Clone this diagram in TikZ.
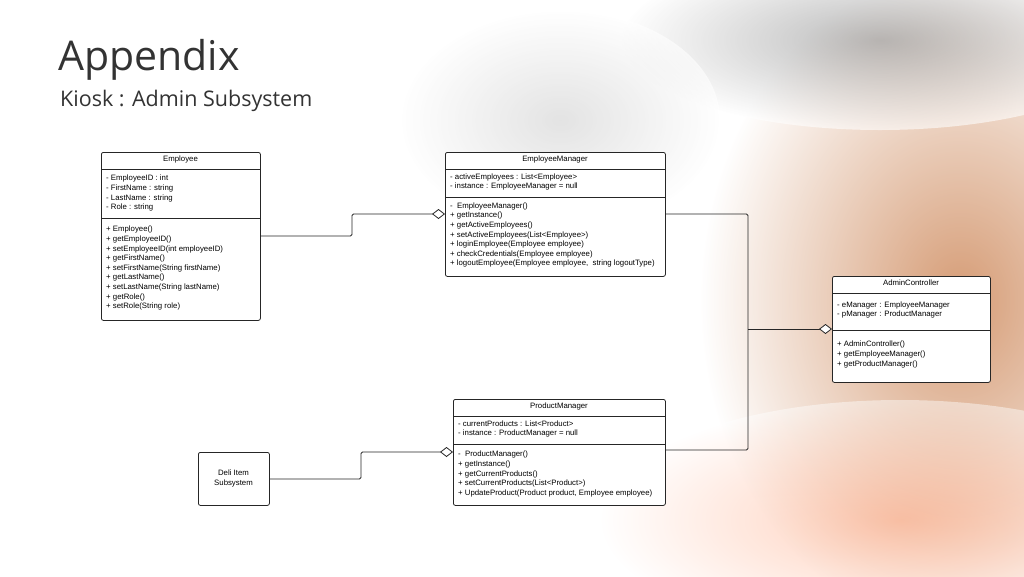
\documentclass[tikz,border=0pt]{standalone}
\usepackage{fontspec}
\setmainfont{Liberation Sans}
\newfontfamily\titlefont{Open Sans}
\usetikzlibrary{arrows.meta}
\begin{document}
\begin{tikzpicture}[x=1pt,y=-1pt,
  cls/.style={draw=black!85,fill=white,rounded corners=2pt,line width=0.8pt,anchor=north west,inner sep=0pt},
  txt/.style={anchor=north west,align=left,inner sep=0pt,font=\fontsize{7.8}{9.6}\selectfont},
  ttl/.style={anchor=north,inner sep=0pt,font=\fontsize{7.8}{9.6}\selectfont},
  sep/.style={line width=0.8pt,draw=black!85},
  con/.style={line width=0.8pt,draw=black!85,rounded corners=1.5pt}]
\useasboundingbox (0,0) rectangle (1024,576);
% background
\fill[white] (0,0) rectangle (1024,576);
\shade[inner color=orange!80!red!70!black!90,outer color=white,opacity=0.6] (960,300) ellipse (260 and 330);
\shade[inner color=orange!60!red!60,outer color=white,opacity=0.45] (900,520) ellipse (300 and 120);
\shade[inner color=black!45,outer color=white,opacity=0.6] (880,40) ellipse (260 and 90);
\shade[inner color=black!18,outer color=white,opacity=0.6] (560,120) ellipse (160 and 110);
% titles
\node[anchor=base west,inner sep=0pt,font=\titlefont\fontsize{41}{44}\selectfont,text=black!80] (t1) at (58,70) {Appendix};
\node[anchor=base west,inner sep=0pt,font=\titlefont\fontsize{21.5}{24}\selectfont,text=black!80] (t2) at (60,106) {Kiosk : Admin Subsystem};
% Employee
\node[cls,minimum width=159pt,minimum height=168pt] (emp) at (101,152) {};
\node[ttl] (empT) at (180.5,156) {Employee};
\draw[sep] (101,169) -- (260,169);
\draw[sep] (101,218) -- (260,218);
\node[txt] (empA) at (106,175) {- EmployeeID : int\\- FirstName : string\\- LastName : string\\- Role : string};
\node[txt] (empM) at (106,226) {+ Employee()\\+ getEmployeeID()\\+ setEmployeeID(int employeeID)\\+ getFirstName()\\+ setFirstName(String firstName)\\+ getLastName()\\+ setLastName(String lastName)\\+ getRole()\\+ setRole(String role)};
% EmployeeManager
\node[cls,minimum width=220pt,minimum height=124pt] (em) at (445,152) {};
\node[ttl] (emT) at (555,156) {EmployeeManager};
\draw[sep] (445,169) -- (665,169);
\draw[sep] (445,197) -- (665,197);
\node[txt] (emA) at (450,173.5) {- activeEmployees : List<Employee>\\- instance : EmployeeManager = null};
\node[txt] (emM) at (450,202.5) {-\ \ EmployeeManager()\\+ getInstance()\\+ getActiveEmployees()\\+ setActiveEmployees(List<Employee>)\\+ loginEmployee(Employee employee)\\+ checkCredentials(Employee employee)\\+ logoutEmployee(Employee employee,\ \ string logoutType)};
% AdminController
\node[cls,minimum width=158pt,minimum height=106pt] (ac) at (832,276) {};
\node[ttl] (acT) at (911,280) {AdminController};
\draw[sep] (832,293) -- (990,293);
\draw[sep] (832,330) -- (990,330);
\node[txt] (acA) at (837,301.5) {- eManager : EmployeeManager\\- pManager : ProductManager};
\node[txt] (acM) at (837,341) {+ AdminController()\\+ getEmployeeManager()\\+ getProductManager()};
% ProductManager
\node[cls,minimum width=212pt,minimum height=106pt] (pm) at (453,399) {};
\node[ttl] (pmT) at (559,403) {ProductManager};
\draw[sep] (453,416) -- (665,416);
\draw[sep] (453,444) -- (665,444);
\node[txt] (pmA) at (458,420.5) {- currentProducts : List<Product>\\- instance : ProductManager = null};
\node[txt] (pmM) at (458,451) {-\ \ ProductManager()\\+ getInstance()\\+ getCurrentProducts()\\+ setCurrentProducts(List<Product>)\\+ UpdateProduct(Product product, Employee employee)};
% Deli
\node[cls,minimum width=71pt,minimum height=53pt] (deli) at (198,452) {};
\node[align=center,inner sep=0pt,font=\fontsize{7.8}{9.6}\selectfont] (deliT) at (233.5,478.5) {Deli Item\\Subsystem};
% connectors
\coordinate (emIn) at (445,214);
\coordinate (empOut) at (260,236);
\coordinate (emOut) at (665,214);
\coordinate (acIn) at (832,329);
\coordinate (pmIn) at (453,452);
\coordinate (pmOut) at (665,450);
\coordinate (deliOut) at (269,479);
\draw[con,{Diamond[open,fill=white,length=13pt,width=10pt,line width=0.8pt]}-] (emIn) -- (352,214) -- (352,236) -- (empOut);
\draw[con,{Diamond[open,fill=white,length=13pt,width=10pt,line width=0.8pt]}-] (pmIn) -- (361,452) -- (361,479) -- (deliOut);
\draw[con] (emOut) -- (748,214) -- (748,450) -- (pmOut);
\draw[con,{Diamond[open,fill=white,length=13pt,width=10pt,line width=0.8pt]}-] (acIn) -- (748,329);
\end{tikzpicture}
\end{document}
